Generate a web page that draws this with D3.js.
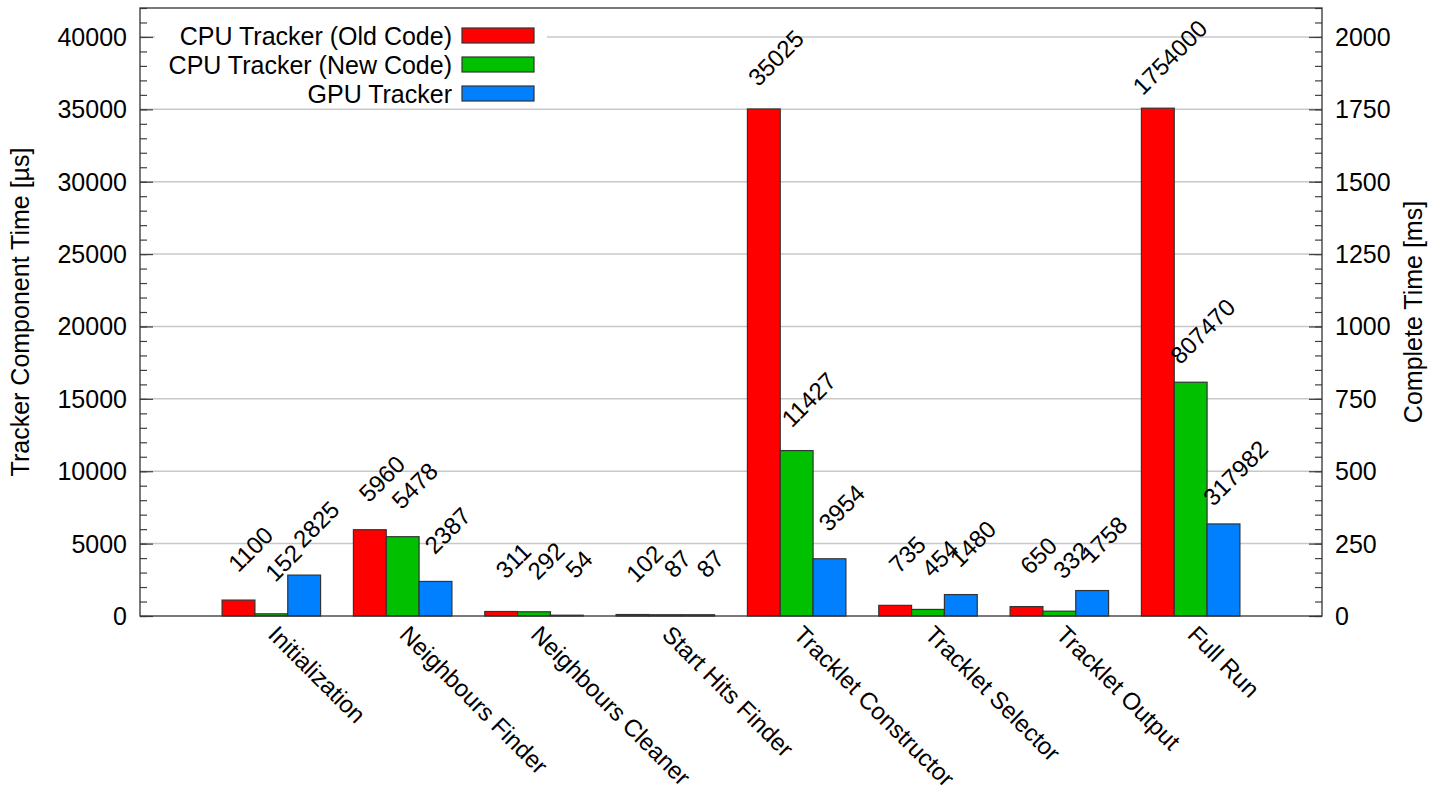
<!DOCTYPE html>
<html>
<head>
<meta charset="utf-8">
<script src="https://cdn.jsdelivr.net/npm/d3@7"></script>
<style>
  html, body { margin: 0; padding: 0; background: #fff; }
  svg { display: block; font-family: "Liberation Sans", Arial, Helvetica, sans-serif; }
</style>
</head>
<body>
<svg id="chart" width="1435" height="791"></svg>
<script>
// ---- data ----
const categories = ["Initialization", "Neighbours Finder", "Neighbours Cleaner", "Start Hits Finder",
  "Tracklet Constructor", "Tracklet Selector", "Tracklet Output", "Full Run"];
const seriesNames = ["CPU Tracker (Old Code)", "CPU Tracker (New Code)", "GPU Tracker"];
const cpuOld = [1100, 5960, 311, 102, 35025, 735, 650, 1754000];
const cpuNew = [152, 5478, 292, 87, 11427, 454, 332, 807470];
const gpu    = [2825, 2387, 54, 87, 3954, 1480, 1758, 317982];
const leftTicks = [0, 5000, 10000, 15000, 20000, 25000, 30000, 35000, 40000];
const rightTicks = [0, 250, 500, 750, 1000, 1250, 1500, 1750, 2000];
const colors = ["#ff0000", "#00c000", "#0080ff"];
const leftTitle = "Tracker Component Time [µs]";
const rightTitle = "Complete Time [ms]";

// ---- layout ----
const L = 140, R = 1322, T = 8, B = 616;
const FS = 25, FSR = 24;
const svg = d3.select("#chart");

const x = d3.scaleLinear().domain([-1, 8]).range([L, R]);
const y = d3.scaleLinear().domain([0, 42000]).range([B, T]);
const y2 = d3.scaleLinear().domain([0, 2100]).range([B, T]);
const unit = x(1) - x(0);
const barW = 0.25;

const series = [cpuOld, cpuNew, gpu];
const bars = [];
series.forEach((vals, s) => {
  vals.forEach((v, i) => {
    const isFull = i === categories.length - 1;
    const top = isFull ? y2(v / 1000) : y(v);
    const x0 = x(i + (s - 1.5) * barW);
    bars.push({ s, i, v, top, x0, x1: x0 + barW * unit });
  });
});

// gridlines
svg.append("g").selectAll("line").data(leftTicks.filter(d => d > 0)).join("line")
  .attr("x1", L).attr("x2", R).attr("y1", d => y(d)).attr("y2", d => y(d))
  .attr("stroke", "#c8c8c8").attr("stroke-width", 1.5);

// minor / major ticks (inward) via d3 axes
const tickCol = "#404040";
const gL = svg.append("g").attr("transform", `translate(${L},0)`)
  .call(d3.axisRight(y).tickValues(d3.range(0, 42001, 1000)).tickSize(7).tickFormat(""));
const gLM = svg.append("g").attr("transform", `translate(${L},0)`)
  .call(d3.axisRight(y).tickValues(leftTicks).tickSize(13).tickFormat(""));
const gR = svg.append("g").attr("transform", `translate(${R},0)`)
  .call(d3.axisLeft(y2).tickValues(d3.range(0, 2101, 50)).tickSize(7).tickFormat(""));
const gRM = svg.append("g").attr("transform", `translate(${R},0)`)
  .call(d3.axisLeft(y2).tickValues(rightTicks).tickSize(13).tickFormat(""));
[gL, gLM, gR, gRM].forEach(g => {
  g.select(".domain").remove();
  g.selectAll("line").attr("stroke", tickCol).attr("stroke-width", 1.2);
});

// tick labels
svg.append("g").selectAll("text").data(leftTicks).join("text")
  .attr("x", 127).attr("y", d => y(d)).attr("dy", "0.36em")
  .attr("text-anchor", "end").attr("font-size", FS).attr("fill", "#000")
  .text(d => d);
svg.append("g").selectAll("text").data(rightTicks).join("text")
  .attr("x", 1335).attr("y", d => y2(d)).attr("dy", "0.36em")
  .attr("text-anchor", "start").attr("font-size", FS).attr("fill", "#000")
  .text(d => d);

// axis titles
svg.append("text").attr("transform", `translate(29,${(T + B) / 2}) rotate(-90)`)
  .attr("text-anchor", "middle").attr("font-size", FS).text(leftTitle);
svg.append("text").attr("transform", `translate(1422,${(T + B) / 2}) rotate(-90)`)
  .attr("text-anchor", "middle").attr("font-size", FS).text(rightTitle);

// bars
svg.append("g").selectAll("rect").data(bars).join("rect")
  .attr("x", d => d.x0).attr("width", d => d.x1 - d.x0)
  .attr("y", d => d.top).attr("height", d => B - d.top)
  .attr("fill", d => colors[d.s]).attr("stroke", "#333").attr("stroke-width", 1.2);

// value labels
svg.append("g").selectAll("text").data(bars).join("text")
  .attr("transform", d => `translate(${(d.x0 + d.x1) / 2 + 18},${d.top - 45}) rotate(-45)`)
  .attr("text-anchor", "middle").attr("font-size", FSR).attr("fill", "#000")
  .text(d => d.v);

// category labels
svg.append("g").selectAll("text").data(categories).join("text")
  .attr("transform", (d, i) => `translate(${x(i) - 4.5},636) rotate(45)`)
  .attr("text-anchor", "start").attr("font-size", FSR).attr("fill", "#000")
  .text(d => d);

// frame
svg.append("rect").attr("x", L).attr("y", T).attr("width", R - L).attr("height", B - T)
  .attr("fill", "none").attr("stroke", "#333").attr("stroke-width", 1.3);

// legend
const lg = svg.append("g");
lg.append("rect").attr("x", 155).attr("y", 20).attr("width", 392).attr("height", 86).attr("fill", "#fff");
const rowsY = [35.5, 64.5, 93.5];
seriesNames.forEach((n, k) => {
  lg.append("text").attr("x", 452).attr("y", rowsY[k]).attr("dy", "0.36em")
    .attr("text-anchor", "end").attr("font-size", FS).attr("fill", "#000").text(n);
  lg.append("rect").attr("x", 462).attr("y", rowsY[k] - 7.5).attr("width", 72).attr("height", 15)
    .attr("fill", colors[k]).attr("stroke", "#333").attr("stroke-width", 1.2);
});
</script>
</body>
</html>
